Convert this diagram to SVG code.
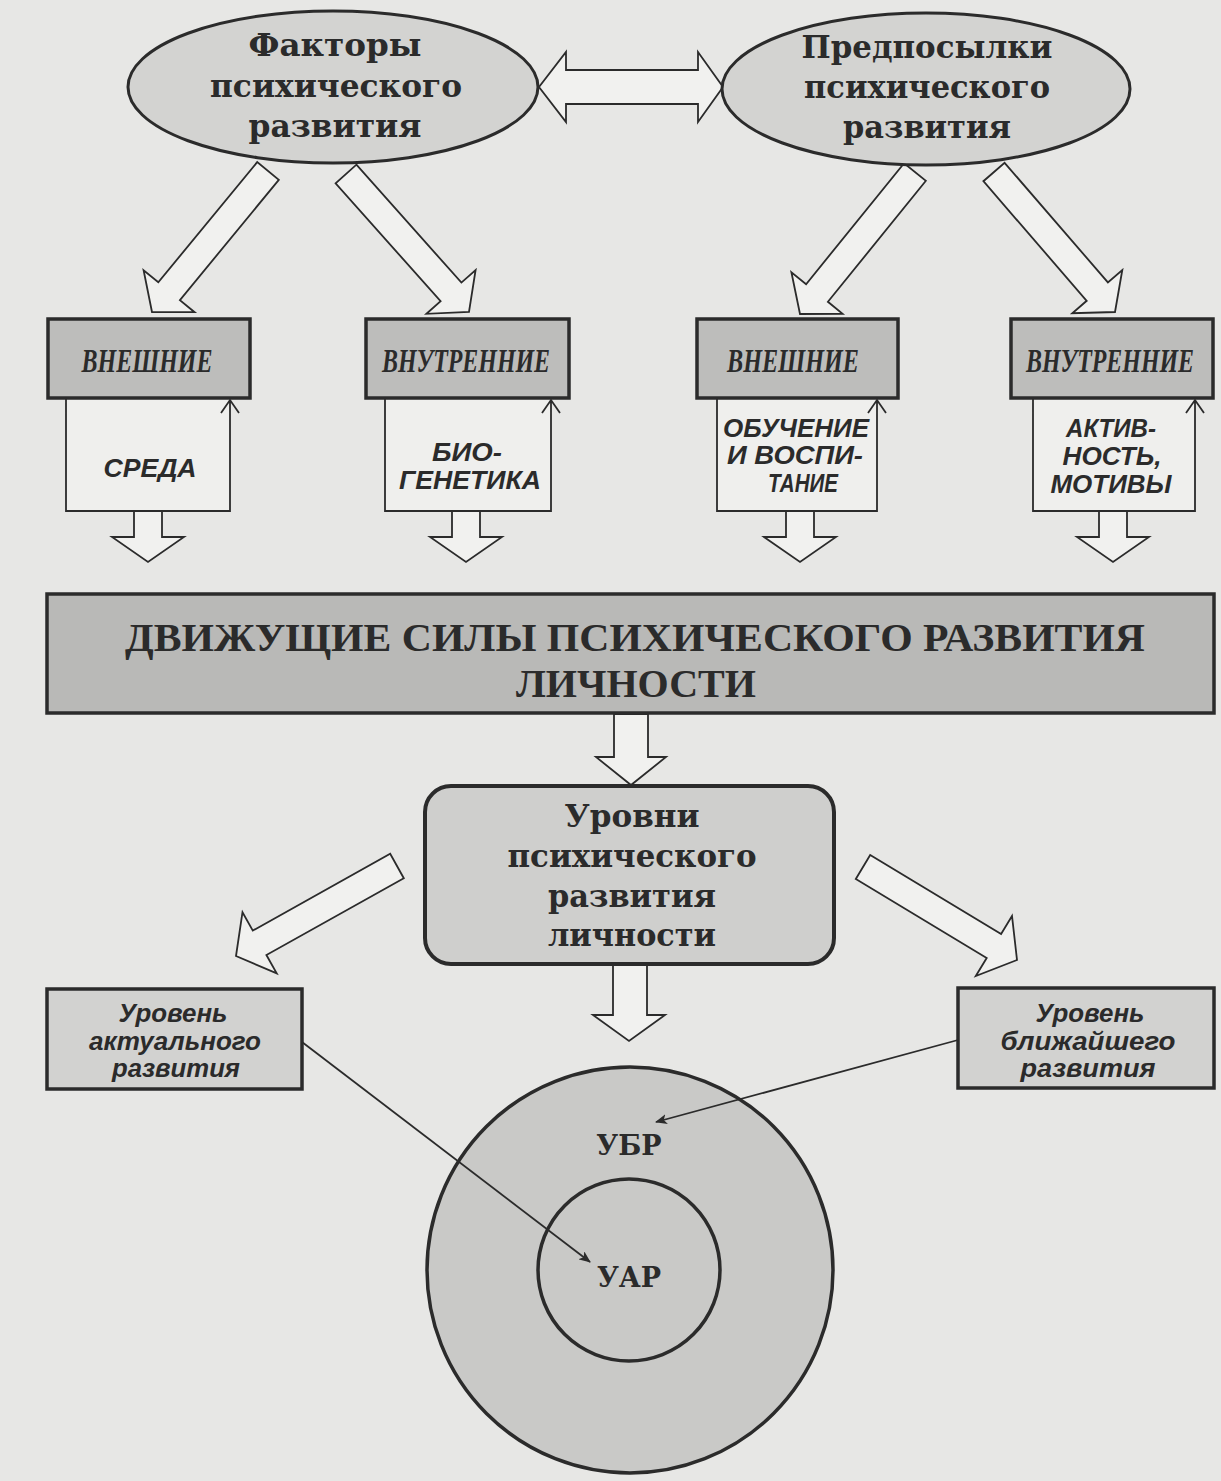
<svg xmlns="http://www.w3.org/2000/svg" width="1221" height="1481" viewBox="0 0 1221 1481">
<defs>
<style>
.bg{fill:#e7e7e5}
.ell{fill:#d3d3d1;stroke:#2b2b2b;stroke-width:3}
.hdr{fill:#bdbdbb;stroke:#2b2b2b;stroke-width:3.5}
.wbox{fill:#efefed;stroke:none}
.wline{fill:none;stroke:#2b2b2b;stroke-width:1.8}
.big{fill:#b9b9b7;stroke:#2b2b2b;stroke-width:3.5}
.lvl{fill:#cfcfcd;stroke:#2b2b2b;stroke-width:4}
.ubox{fill:#d2d2d0;stroke:#2b2b2b;stroke-width:3.5}
.circ{fill:#c9c9c7;stroke:#2b2b2b;stroke-width:3.5}
.barrow{fill:#f1f1ef;stroke:#2b2b2b;stroke-width:1.8;stroke-linejoin:miter}
.thin{fill:none;stroke:#2b2b2b;stroke-width:1.8}
.ts{font-family:"DejaVu Serif","Liberation Serif",serif;font-weight:bold;font-size:31px;fill:#2b2b2b;text-anchor:middle}
.th{font-family:"Liberation Serif","DejaVu Serif",serif;font-weight:bold;font-style:italic;font-size:27px;fill:#2b2b2b;text-anchor:middle}
.tw{font-family:"Liberation Sans",Arial,sans-serif;font-weight:bold;font-style:italic;font-size:25px;fill:#2b2b2b;text-anchor:middle}
.tb{font-family:"Liberation Serif","DejaVu Serif",serif;font-weight:bold;font-size:41px;fill:#2b2b2b;text-anchor:middle}
.tu{font-family:"Liberation Sans",Arial,sans-serif;font-weight:bold;font-style:italic;font-size:25px;fill:#2b2b2b;text-anchor:middle}
.tc{font-family:"DejaVu Serif","Liberation Serif",serif;font-weight:bold;font-size:27px;fill:#2b2b2b;text-anchor:middle}
</style>
<marker id="ah" viewBox="0 0 12 10" refX="11" refY="5" markerWidth="12" markerHeight="10" markerUnits="userSpaceOnUse" orient="auto">
<path d="M0,0 L12,5 L0,10 L3,5 Z" fill="#2b2b2b"/>
</marker>
</defs>
<rect class="bg" x="0" y="0" width="1221" height="1481"/>

<g id="connectors">
<polygon id="double-arrow" class="barrow" points="539,87 566,52 566,70 698,70 698,52 723,87 698,122 698,104 566,104 566,122"/>
<polygon id="a-f-ext" class="barrow" points="278.8,179.9 179.9,300.1 194.6,312.2 152,312 143.6,270.2 158.3,282.3 257.2,162.1"/>
<polygon id="a-f-int" class="barrow" points="356.4,164.7 461.4,282.6 475.6,270 469,312 426.4,313.8 440.6,301.2 335.6,183.3"/>
<polygon id="a-p-ext" class="barrow" points="925.9,180.8 827.9,301.8 842.6,313.8 800,314 791.4,272.2 806.1,284.2 904.1,163.2"/>
<polygon id="a-p-int" class="barrow" points="1004.6,162.8 1107.9,282.4 1122.3,270 1115,312 1072.3,313.2 1086.7,300.8 983.4,181.2"/>
<polygon id="d1" class="barrow" points="134,511 162,511 162,537 184,537 148,562 112,537 134,537"/>
<polygon id="d2" class="barrow" points="452,511 480,511 480,537 502,537 466,562 430,537 452,537"/>
<polygon id="d3" class="barrow" points="786,511 814,511 814,537 836,537 800,562 764,537 786,537"/>
<polygon id="d4" class="barrow" points="1099,511 1127,511 1127,537 1149,537 1113,562 1077,537 1099,537"/>
<polygon id="d-big" class="barrow" points="614,714 648,714 648,757 666,757 631,785 596,757 614,757"/>
<polygon id="d-lvl" class="barrow" points="613,965 647,965 647,1015 665,1015 629,1041 593,1015 613,1015"/>
<polygon id="a-left" class="barrow" points="403.8,878.2 266.4,955 276.7,973.4 236,956 242.5,912.2 252.8,930.6 390.2,853.8"/>
<polygon id="a-right" class="barrow" points="870.2,855 1001.1,934 1012,916 1017,960 975.8,976 986.7,958 855.8,879"/>
</g>

<g id="node-factors">
<ellipse class="ell" cx="333" cy="87" rx="205" ry="76"/>
<text class="ts" x="335" y="56" textLength="173" lengthAdjust="spacingAndGlyphs">Факторы</text>
<text class="ts" x="336" y="97" textLength="252" lengthAdjust="spacingAndGlyphs">психического</text>
<text class="ts" x="335" y="137" textLength="173" lengthAdjust="spacingAndGlyphs">развития</text>
</g>

<g id="node-premises">
<ellipse class="ell" cx="926" cy="89" rx="204" ry="76"/>
<text class="ts" x="927" y="58" textLength="251" lengthAdjust="spacingAndGlyphs">Предпосылки</text>
<text class="ts" x="927" y="98" textLength="246" lengthAdjust="spacingAndGlyphs">психического</text>
<text class="ts" x="927" y="138" textLength="168" lengthAdjust="spacingAndGlyphs">развития</text>
</g>

<g id="node-ext1">
<rect class="wbox" x="66" y="398" width="164" height="113"/>
<path class="wline" d="M66,398 V511 H230 V400 M221,413 L230,400 L239,413"/>
<rect class="hdr" x="48" y="319" width="202" height="79"/>
<text class="th" transform="translate(147,372) scale(1,1.25)" x="0" y="0" textLength="131" lengthAdjust="spacingAndGlyphs">ВНЕШНИЕ</text>
<text class="tw" x="150" y="477" textLength="93" lengthAdjust="spacingAndGlyphs">СРЕДА</text>
</g>

<g id="node-int1">
<rect class="wbox" x="385" y="398" width="166" height="113"/>
<path class="wline" d="M385,398 V511 H551 V400 M542,413 L551,400 L560,413"/>
<rect class="hdr" x="366" y="319" width="203" height="79"/>
<text class="th" transform="translate(466,372) scale(1,1.25)" x="0" y="0" textLength="168" lengthAdjust="spacingAndGlyphs">ВНУТРЕННИЕ</text>
<text class="tw" x="467" y="461" textLength="70" lengthAdjust="spacingAndGlyphs">БИО-</text>
<text class="tw" x="470" y="489" textLength="142" lengthAdjust="spacingAndGlyphs">ГЕНЕТИКА</text>
</g>

<g id="node-ext2">
<rect class="wbox" x="717" y="398" width="160" height="113"/>
<path class="wline" d="M717,398 V511 H877 V400 M868,413 L877,400 L886,413"/>
<rect class="hdr" x="697" y="319" width="201" height="79"/>
<text class="th" transform="translate(793,372) scale(1,1.25)" x="0" y="0" textLength="132" lengthAdjust="spacingAndGlyphs">ВНЕШНИЕ</text>
<text class="tw" x="796" y="437" textLength="146" lengthAdjust="spacingAndGlyphs">ОБУЧЕНИЕ</text>
<text class="tw" x="795" y="464" textLength="136" lengthAdjust="spacingAndGlyphs">И ВОСПИ-</text>
<text class="tw" x="803" y="492" textLength="70" lengthAdjust="spacingAndGlyphs">ТАНИЕ</text>
</g>

<g id="node-int2">
<rect class="wbox" x="1033" y="398" width="162" height="113"/>
<path class="wline" d="M1033,398 V511 H1195 V400 M1186,413 L1195,400 L1204,413"/>
<rect class="hdr" x="1011" y="319" width="202" height="79"/>
<text class="th" transform="translate(1110,372) scale(1,1.25)" x="0" y="0" textLength="168" lengthAdjust="spacingAndGlyphs">ВНУТРЕННИЕ</text>
<text class="tw" x="1111" y="437" textLength="90" lengthAdjust="spacingAndGlyphs">АКТИВ-</text>
<text class="tw" x="1112" y="465" textLength="99" lengthAdjust="spacingAndGlyphs">НОСТЬ,</text>
<text class="tw" x="1111" y="493" textLength="121" lengthAdjust="spacingAndGlyphs">МОТИВЫ</text>
</g>

<g id="node-forces">
<rect class="big" x="47" y="594" width="1167" height="119"/>
<text class="tb" x="635" y="651" textLength="1020" lengthAdjust="spacingAndGlyphs">ДВИЖУЩИЕ СИЛЫ ПСИХИЧЕСКОГО РАЗВИТИЯ</text>
<text class="tb" x="636" y="697" textLength="240" lengthAdjust="spacingAndGlyphs">ЛИЧНОСТИ</text>
</g>

<g id="node-levels">
<rect class="lvl" x="425" y="786" width="409" height="178" rx="26" ry="26"/>
<text class="ts" x="632" y="827" textLength="135" lengthAdjust="spacingAndGlyphs">Уровни</text>
<text class="ts" x="632" y="867" textLength="249" lengthAdjust="spacingAndGlyphs">психического</text>
<text class="ts" x="632" y="907" textLength="168" lengthAdjust="spacingAndGlyphs">развития</text>
<text class="ts" x="632" y="946" textLength="168" lengthAdjust="spacingAndGlyphs">личности</text>
</g>

<g id="node-actual">
<rect class="ubox" x="47" y="989" width="255" height="100"/>
<text class="tu" x="173" y="1022" textLength="109" lengthAdjust="spacingAndGlyphs">Уровень</text>
<text class="tu" x="175" y="1050" textLength="172" lengthAdjust="spacingAndGlyphs">актуального</text>
<text class="tu" x="176" y="1077" textLength="128" lengthAdjust="spacingAndGlyphs">развития</text>
</g>

<g id="node-nearest">
<rect class="ubox" x="958" y="988" width="256" height="100"/>
<text class="tu" x="1090" y="1022" textLength="109" lengthAdjust="spacingAndGlyphs">Уровень</text>
<text class="tu" x="1088" y="1050" textLength="175" lengthAdjust="spacingAndGlyphs">ближайшего</text>
<text class="tu" x="1088" y="1077" textLength="135" lengthAdjust="spacingAndGlyphs">развития</text>
</g>

<g id="node-circles">
<circle class="circ" cx="630" cy="1270" r="203"/>
<circle class="circ" cx="629" cy="1270" r="91"/>
<text class="tc" x="629" y="1155">УБР</text>
<text class="tc" x="629" y="1287">УАР</text>
</g>

<g id="pointer-lines">
<line class="thin" x1="302" y1="1042" x2="590" y2="1262" marker-end="url(#ah)"/>
<line class="thin" x1="958" y1="1040" x2="656" y2="1122" marker-end="url(#ah)"/>
</g>
</svg>
